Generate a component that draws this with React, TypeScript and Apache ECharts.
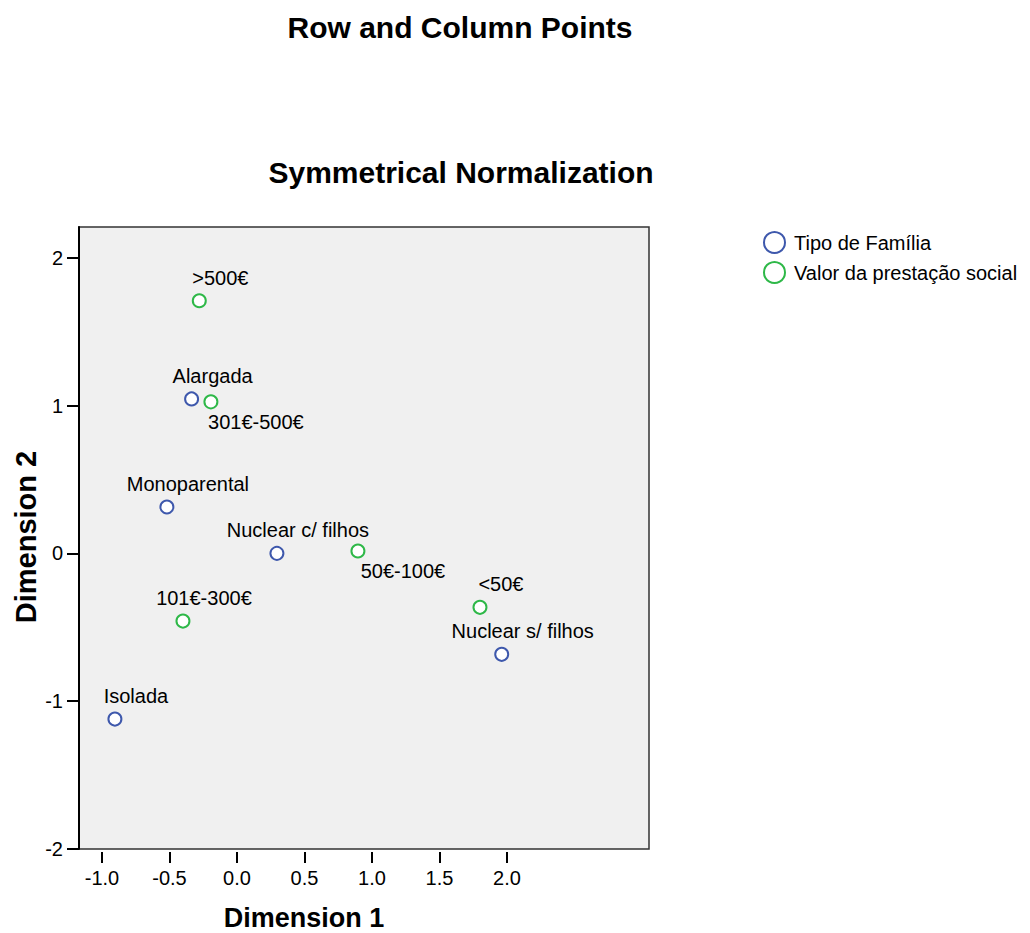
import React, { useEffect, useRef } from "react";
import * as echarts from "echarts";

const typeNames = ["Alargada", "Monoparental", "Nuclear c/ filhos", "Nuclear s/ filhos", "Isolada"];
const typeX = [-0.336, -0.519, 0.296, 1.961, -0.904];
const typeY = [1.045, 0.314, 0.0, -0.683, -1.121];

const valueNames = [">500€", "301€-500€", "50€-100€", "<50€", "101€-300€"];
const valueX = [-0.279, -0.193, 0.896, 1.8, -0.4];
const valueY = [1.709, 1.025, 0.016, -0.365, -0.458];

const labelsBelow = ["301€-500€", "50€-100€"];

const xTicks = [-1, -0.5, 0, 0.5, 1, 1.5, 2];
const yTicks = [-2, -1, 0, 1, 2];

const seriesNames = ["Tipo de Família", "Valor da prestação social"];
const titleMain = "Row and Column Points";
const titleSub = "Symmetrical Normalization";
const xName = "Dimension 1";
const yName = "Dimension 2";

const FONT = "'Liberation Sans', Arial, sans-serif";
const BLUE = "#3e58ac";
const GREEN = "#2eb848";

function buildData(names: string[], xs: number[], ys: number[]) {
  return names.map((n, i) => {
    const below = labelsBelow.includes(n);
    return {
      name: n,
      value: [xs[i], ys[i]],
      label: {
        show: true,
        formatter: n,
        position: "inside",
        offset: below ? [45, 20] : [21, -23],
      },
    };
  });
}

export default function App() {
  const ref = useRef<HTMLDivElement>(null);
  useEffect(() => {
    if (!ref.current) return;
    const chart = echarts.init(ref.current, null, { renderer: "svg" });
    const labelStyle = { color: "#000", fontSize: 20, fontFamily: FONT };
    chart.setOption({
      animation: false,
      backgroundColor: "#fff",
      textStyle: { fontFamily: FONT },
      graphic: [
        { type: "text", x: 460, y: 27, style: { text: titleMain, fontSize: 30, fontWeight: "bold", fontFamily: FONT, fill: "#000", textAlign: "center", textVerticalAlign: "middle" } },
        { type: "text", x: 461, y: 172, style: { text: titleSub, fontSize: 30, fontWeight: "bold", fontFamily: FONT, fill: "#000", textAlign: "center", textVerticalAlign: "middle" } },
        { type: "text", x: 304, y: 918, style: { text: xName, fontSize: 27, fontWeight: "bold", fontFamily: FONT, fill: "#000", textAlign: "center", textVerticalAlign: "middle" } },
        { type: "text", x: 26, y: 537, rotation: Math.PI / 2, style: { text: yName, fontSize: 29, fontWeight: "bold", fontFamily: FONT, fill: "#000", textAlign: "center", textVerticalAlign: "middle" } },
      ],
      legend: {
        orient: "vertical",
        left: 758,
        top: 226,
        itemWidth: 21,
        itemHeight: 21,
        itemGap: 7,
        icon: "emptyCircle",
        itemStyle: { borderWidth: 2, opacity: 1 },
        textStyle: { fontSize: 20, color: "#000", fontFamily: FONT, padding: [0, 0, 0, 4] },
        data: seriesNames,
      },
      grid: {
        left: 79,
        top: 227,
        width: 570,
        height: 622,
        show: true,
        backgroundColor: "#f0f0f0",
        borderColor: "#333",
        borderWidth: 1.5,
        containLabel: false,
        outerBoundsMode: "none",
      },
      xAxis: {
        type: "value",
        position: "bottom",
        min: -1.17,
        max: 3.052,
        offset: 3,
        axisLine: { show: false, onZero: false },
        axisTick: { show: true, length: 11, customValues: xTicks, lineStyle: { color: "#000", width: 2 } },
        axisLabel: { customValues: xTicks, margin: 16, formatter: (v: number) => v.toFixed(1), ...labelStyle },
        splitLine: { show: false },
      },
      yAxis: {
        type: "value",
        position: "left",
        min: -2,
        max: 2.208,
        axisLine: { show: true, onZero: false, lineStyle: { color: "#000", width: 2 } },
        axisTick: { show: true, length: 12, customValues: yTicks, lineStyle: { color: "#000", width: 2 } },
        axisLabel: { customValues: yTicks, margin: 16, formatter: (v: number) => String(v), ...labelStyle },
        splitLine: { show: false },
      },
      series: [
        {
          name: seriesNames[0],
          type: "scatter",
          symbol: "emptyCircle",
          symbolSize: 13,
          itemStyle: { color: BLUE, borderColor: BLUE, borderWidth: 2, opacity: 1 },
          label: labelStyle,
          emphasis: { disabled: true },
          data: buildData(typeNames, typeX, typeY),
        },
        {
          name: seriesNames[1],
          type: "scatter",
          symbol: "emptyCircle",
          symbolSize: 13,
          itemStyle: { color: GREEN, borderColor: GREEN, borderWidth: 2, opacity: 1 },
          label: labelStyle,
          emphasis: { disabled: true },
          data: buildData(valueNames, valueX, valueY),
        },
      ],
    });
    return () => chart.dispose();
  }, []);
  return <div ref={ref} style={{ position: "absolute", left: 0, top: 0, width: 1030, height: 933 }} />;
}
